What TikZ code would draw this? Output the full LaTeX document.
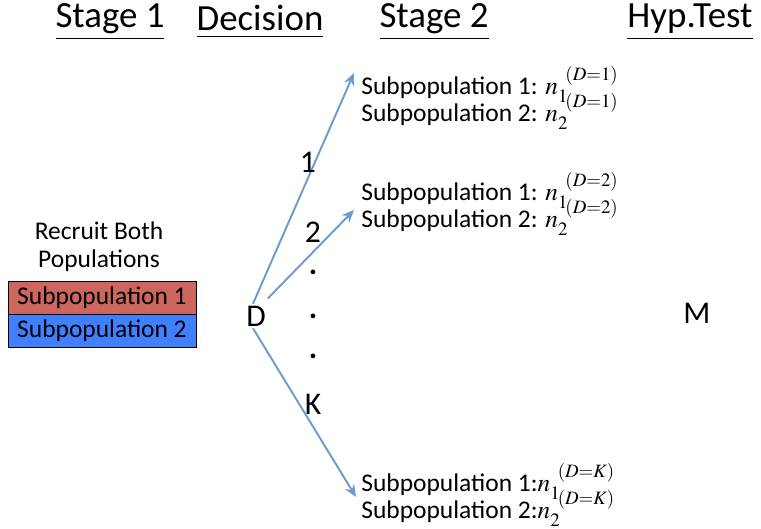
\documentclass[tikz,border=0pt]{standalone}
\usepackage{mathptmx}
\usepackage{fontspec}
\setmainfont{Carlito}
\usepackage{amsmath}
\usetikzlibrary{arrows.meta}
\newcommand{\tightlines}{\fontsize{14.5}{15.5}\selectfont\lineskiplimit=-30pt\relax\lineskip=0pt\relax}

\begin{document}
\begin{tikzpicture}[x=0.02cm,y=0.02cm]
\tikzstyle{every node}+=[inner sep=0pt]
\tikzstyle{head}=[font=\fontsize{21}{24}\selectfont]
\tikzstyle{txt}=[font=\fontsize{14.5}{16}\selectfont]
\tikzstyle{big}=[font=\fontsize{18}{20}\selectfont]
\tikzstyle{grp}=[font=\tightlines, align=left, anchor=west]
\tikzstyle{popbox}=[txt, draw=black, minimum width=3.76cm, minimum height=0.66cm]
\tikzstyle{branch}=[draw={rgb,255:red,110;green,155;blue,205}, line width=1.1pt, -{Stealth[length=7pt,width=6pt]}]
\useasboundingbox (0,0) rectangle (761,-528);
% headings
\node [head] (h1) at (110,-22) {\underline{Stage 1}};
\node [head] (h2) at (260,-22) {\underline{Decision}};
\node [head] (h3) at (434,-22) {\underline{Stage 2}};
\node [head] (h4) at (690,-22) {\underline{Hyp.Test}};
% stage 1
\node [txt, align=center] (rec) at (99,-247) {Recruit Both\\Populations};
\node [popbox, fill={rgb,255:red,204;green,102;blue,94}] (p1) at (102,-298) {Subpopulation 1};
\node [popbox, fill={rgb,255:red,64;green,128;blue,255}] (p2) at (102,-331) {Subpopulation 2};
% decision
\node [big] (d) at (256,-316) {D};
\node [big] (m) at (697,-313) {M};
% stage 2 groups
\node [grp] (g1) at (361,-98) {Subpopulation 1: $n_1^{\mkern7mu(D=1)}$\\Subpopulation 2: $n_2^{\mkern7mu(D=1)}$};
\node [grp] (g2) at (361,-204) {Subpopulation 1: $n_1^{\mkern7mu(D=2)}$\\Subpopulation 2: $n_2^{\mkern7mu(D=2)}$};
\node [grp] (gk) at (361,-495) {Subpopulation 1:$n_1^{\mkern7mu(D=K)}$\\Subpopulation 2:$n_2^{\mkern7mu(D=K)}$};
% branches
\coordinate (e1) at (354,-73);
\coordinate (e2) at (354,-210);
\coordinate (ek) at (356,-497);
\draw [branch] ([xshift=4pt,yshift=1pt]d.north west) -- (e1);
\draw [branch] ([xshift=1pt,yshift=4pt]d.north east) -- (e2);
\draw [branch] ([xshift=4pt,yshift=-1pt]d.south west) -- (ek);
\node [big] (l1) at (308,-162) {1};
\node [big] (l2) at (313,-232) {2};
\node [big] (lk) at (313,-404) {K};
\node [big] (dot1) at (313,-272) {\textbf{.}};
\node [big] (dot2) at (313,-316) {\textbf{.}};
\node [big] (dot3) at (313,-356) {\textbf{.}};
\end{tikzpicture}
\end{document}
